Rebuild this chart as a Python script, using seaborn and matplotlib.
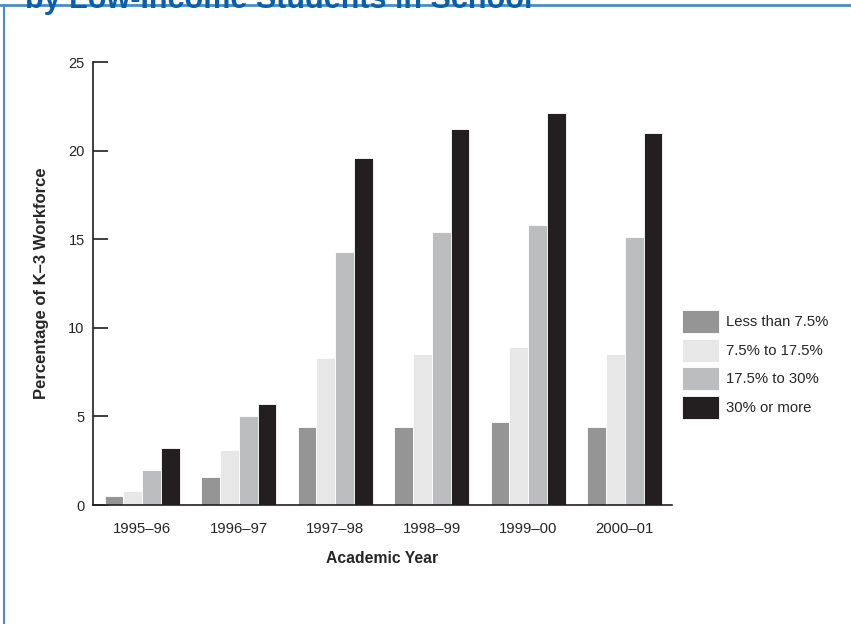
import numpy as np
import pandas as pd
import seaborn as sns
import matplotlib.pyplot as plt
from matplotlib.lines import Line2D

years = ['1995–96', '1996–97', '1997–98', '1998–99', '1999–00', '2000–01']
groups = ['Less than 7.5%', '7.5% to 17.5%', '17.5% to 30%', '30% or more']
less_than_7_5 = [0.5, 1.6, 4.4, 4.4, 4.7, 4.4]
from_7_5_to_17_5 = [0.8, 3.1, 8.3, 8.5, 8.9, 8.5]
from_17_5_to_30 = [2.0, 5.0, 14.3, 15.4, 15.8, 15.1]
over_30 = [3.2, 5.7, 19.6, 21.2, 22.1, 21.0]
colors = ['#959595', '#e6e7e6', '#bcbdbf', '#231f20']

series = [less_than_7_5, from_7_5_to_17_5, from_17_5_to_30, over_30]
df = pd.DataFrame({
    'year': np.repeat([years], len(groups), axis=0).ravel(),
    'group': np.repeat(groups, len(years)),
    'value': np.concatenate(series),
})

sns.set_theme(style='white')
plt.rcParams['font.family'] = ['Liberation Sans', 'DejaVu Sans']

fig = plt.figure(figsize=(8.51, 6.24), dpi=100)
ax = fig.add_axes([0.1093, 0.1907, 0.6804, 0.7099])

sns.barplot(data=df, x='year', y='value', hue='group', order=years,
            hue_order=groups, palette=colors, width=0.78, saturation=1,
            edgecolor='white', linewidth=0.6, ax=ax)

ax.set_xlim(-0.51, 5.49)
ax.set_ylim(0, 25)
ax.set_yticks([0, 5, 10, 15, 20, 25])
ax.tick_params(axis='y', direction='in', length=11, width=1.2, color='#231f20',
               labelsize=10.5, pad=6, left=True)
ax.tick_params(axis='x', length=0, labelsize=10.7, pad=12)
for side in ['top', 'right']:
    ax.spines[side].set_visible(False)
for side in ['left', 'bottom']:
    ax.spines[side].set_color('#231f20')
    ax.spines[side].set_linewidth(1.2)

ax.set_xlabel('Academic Year', fontsize=11.3, fontweight='bold', labelpad=11)
ax.set_ylabel('Percentage of K–3 Workforce', fontsize=12, fontweight='bold', labelpad=14)

handles, labels = ax.get_legend_handles_labels()
ax.legend(handles, labels, loc='upper left', bbox_to_anchor=(682 / 851, 1 - 310 / 624),
          bbox_transform=fig.transFigure, frameon=False, fontsize=10.7,
          handlelength=2.5, handleheight=2.0, handletextpad=0.45,
          labelspacing=0.38, borderpad=0, borderaxespad=0)

# blue frame and the clipped title from the page
fig.add_artist(Line2D([0, 1], [1 - 5 / 624, 1 - 5 / 624], color='#4a8cc4', lw=2,
                      transform=fig.transFigure))
fig.add_artist(Line2D([4 / 851, 4 / 851], [0, 1 - 5 / 624], color='#4a8cc4', lw=1.5,
                      transform=fig.transFigure))
fig.text(25 / 851, 1 - 8 / 624, 'by Low-Income Students in School', color='#0b5ea8',
         fontsize=22, fontweight='bold', va='baseline', ha='left', zorder=5)

fig.savefig('out.png', dpi=100)
